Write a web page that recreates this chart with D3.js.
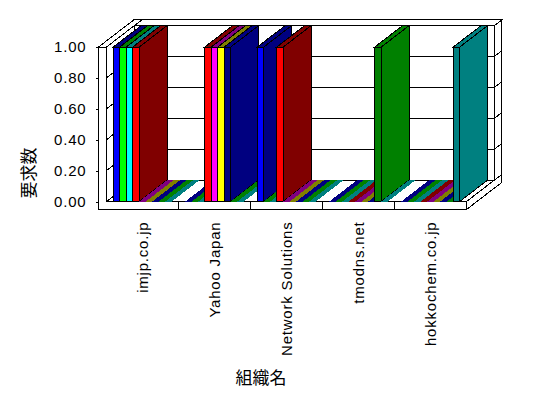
<!DOCTYPE html>
<html lang="ja">
<head>
<meta charset="UTF-8">
<title>組織名別 要求数</title>
<script src="https://d3js.org/d3.v7.min.js"></script>
<style>
    body { margin: 0; background: #fff; }
    svg { display: block; }
    .face { stroke: #000; stroke-width: 1; shape-rendering: crispEdges; }
    .grid { stroke: #000; stroke-width: 1; shape-rendering: crispEdges; fill: none; }
    .lbl { font-family: "Liberation Sans", Arial, sans-serif; font-size: 15px; letter-spacing: 0.8px; fill: #000; }
    .ttl { font-family: "Noto Sans CJK JP", sans-serif; font-size: 17px; fill: #000; }
</style>
</head>
<body>
<script>
    // categories (organisation names)
    const categories = ["imjp.co.jp", "Yahoo Japan", "Network Solutions", "tmodns.net", "hokkochem.co.jp"];

    // one array per series, values per category
    const s1 = [1, 0, 1, 0, 0];
    const s2 = [1, 0, 0, 0, 0];
    const s3 = [1, 0, 0, 0, 0];
    const s4 = [1, 1, 1, 0, 0];
    const s5 = [0, 1, 0, 0, 0];
    const s6 = [0, 1, 0, 0, 0];
    const s7 = [0, 1, 0, 0, 0];
    const s8 = [0, 0, 0, 1, 0];
    const s9 = [0, 0, 0, 0, 1];
    const series = [s1, s2, s3, s4, s5, s6, s7, s8, s9];

    const yTicks = [0, 0.2, 0.4, 0.6, 0.8, 1.0];

    // front colour / darker shade for top + side faces
    const frontColors = ["#0000ff", "#00ff00", "#00ffff", "#ff0000", "#ff00ff", "#ffff00", "#000080", "#008000", "#008080"];
    const shadeColors = ["#000080", "#008000", "#008080", "#800000", "#800080", "#808000", "#000080", "#008000", "#008080"];

    const W = 548, H = 398;
    const xL = 106.5, xR = 466.5;
    const DX = 28, DY = 21.5;      // depth offset of the plot box
    const WD = 0.26;               // back wall thickness (in depth units)
    const WALL = 8;                // left wall / floor thickness

    const svg = d3.select("body").append("svg")
        .attr("width", W)
        .attr("height", H);

    const x0 = d3.scaleBand().domain(categories).range([xL, xR]);
    const x1 = d3.scaleBand().domain(d3.range(series.length))
        .range([6.75, x0.bandwidth() - 6.75]);
    const y = d3.scaleLinear().domain([0, 1]).range([201.5, 47]);

    const pt = (x, v, d) => [x + DX * d, y(v) - DY * d];
    const line = d3.line();

    function face(points, fill, stroke) {
        return svg.append("path")
            .attr("class", "face")
            .attr("d", line(points) + "Z")
            .style("fill", fill)
            .style("stroke", stroke === false ? "none" : "#000");
    }
    function seg(a, b) {
        svg.append("path").attr("class", "grid").attr("d", line([a, b]));
    }

    // back wall
    face([pt(xL, 1, 1), pt(xR, 1, 1), pt(xR, 1, 1 + WD), pt(xL, 1, 1 + WD)], "#fff");
    face([pt(xR, 1, 1), pt(xR, 1, 1 + WD), pt(xR, 0, 1 + WD), pt(xR, 0, 1)], "#fff");
    face([pt(xL, 1, 1), pt(xR, 1, 1), pt(xR, 0, 1), pt(xL, 0, 1)], "#fff");
    yTicks.forEach(v => {
        seg(pt(xL, v, 1), pt(xR, v, 1));
        seg(pt(xR, v, 1), pt(xR, v, 1 + WD));
    });

    // left wall
    face([pt(xL - WALL, 1, 0), pt(xL, 1, 0), pt(xL, 1, 1 + WD), pt(xL - WALL, 1, 1 + WD)], "#fff");
    face([pt(xL, 1, 0), pt(xL, 1, 1), pt(xL, 0, 1), pt(xL, 0, 0)], "#fff");
    yTicks.forEach(v => seg(pt(xL, v, 0), pt(xL, v, 1)));

    // floor
    face([pt(xL, 0, 0), pt(xR, 0, 0), pt(xR, 0, 1), pt(xL, 0, 1)], "#fff");
    const fr = pt(xR, 0, 1 + WD);
    face([pt(xR, 0, 0), fr, [fr[0], fr[1] + WALL], [xR, y(0) + WALL]], "#fff");

    // front faces of left wall + floor (L shape)
    face([[xL - WALL, y(1)], [xL, y(1)], [xL, y(0)], [xR, y(0)],
          [xR, y(0) + WALL], [xL - WALL, y(0) + WALL]], "#fff");
    categories.slice(1).forEach(c => seg([x0(c), y(0)], [x0(c), y(0) + WALL]));

    // bars, painted left to right
    categories.forEach((c, ci) => {
        series.forEach((s, si) => {
            const v = s[ci];
            const bx = x0(c) + x1(si);
            const w = x1.bandwidth();
            if (v > 0) {
                face([pt(bx + w, v, 0), pt(bx + w, v, 1), pt(bx + w, 0, 1), pt(bx + w, 0, 0)], shadeColors[si]);
                face([pt(bx, v, 0), pt(bx + w, v, 0), pt(bx + w, v, 1), pt(bx, v, 1)], shadeColors[si]);
                face([pt(bx, v, 0), pt(bx + w, v, 0), pt(bx + w, 0, 0), pt(bx, 0, 0)], frontColors[si]);
            } else {
                face([pt(bx, 0, 0), pt(bx + w, 0, 0), pt(bx + w, 0, 1), pt(bx, 0, 1)], shadeColors[si], false);
            }
        });
    });

    // y axis on the front of the left wall
    const yAxis = svg.append("g")
        .attr("transform", `translate(${xL - WALL},0)`)
        .call(d3.axisLeft(y).tickValues(yTicks).tickFormat(d3.format(".2f")).tickSize(3).tickPadding(9));
    yAxis.select(".domain").remove();
    yAxis.selectAll("line").style("shape-rendering", "crispEdges");
    yAxis.selectAll("text").attr("class", "lbl").attr("font-size", null).attr("font-family", null);
    yAxis.attr("font-size", null).attr("font-family", null);

    // category labels
    const xAxis = svg.append("g")
        .attr("transform", `translate(0,${y(0) + WALL})`)
        .call(d3.axisBottom(x0).tickSize(0));
    xAxis.select(".domain").remove();
    xAxis.attr("font-size", null).attr("font-family", null);
    xAxis.selectAll("text")
        .attr("class", "lbl")
        .attr("transform", "rotate(-90)")
        .attr("x", -12)
        .attr("y", 0)
        .attr("dy", "0.35em")
        .attr("text-anchor", "end");

    // axis titles
    svg.append("text").attr("class", "ttl")
        .attr("x", 261).attr("y", 376)
        .attr("text-anchor", "middle").attr("dominant-baseline", "central")
        .text("組織名");
    svg.append("text").attr("class", "ttl")
        .attr("transform", "translate(27,173) rotate(-90)")
        .attr("text-anchor", "middle").attr("dominant-baseline", "central")
        .text("要求数");
</script>
</body>
</html>
